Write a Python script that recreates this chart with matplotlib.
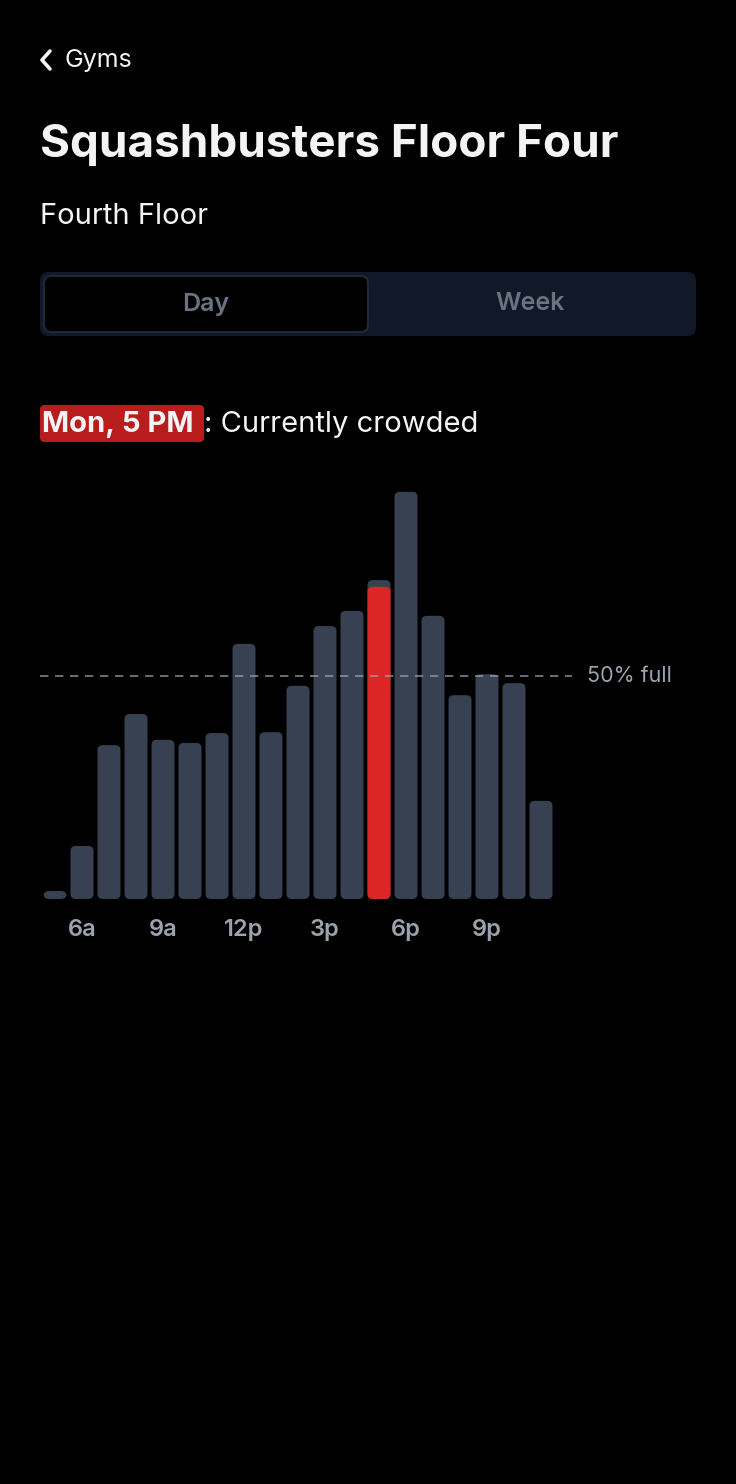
import matplotlib
matplotlib.use("Agg")
import matplotlib.pyplot as plt
from matplotlib.patches import FancyBboxPatch
from matplotlib.lines import Line2D

hours = ["5a","6a","7a","8a","9a","10a","11a","12p","1p","2p","3p","4p","5p","6p","7p","8p","9p","10p","11p"]
values = [1.8, 11.9, 34.5, 41.5, 35.7, 35.0, 37.2, 57.2, 37.4, 47.8, 61.2, 64.6, 71.5, 91.3, 63.5, 45.7, 50.4, 48.4, 22.0]
current_index = 12
current_value = 70.0
tick_labels = ["6a","9a","12p","3p","6p","9p"]
tick_idx = [1, 4, 7, 10, 13, 16]

W, H = 736, 1484
fig = plt.figure(figsize=(W/100, H/100), dpi=100, facecolor="black")
plt.rcParams['font.family'] = ['Inter', 'DejaVu Sans']

def fx(x): return x / W
def fy(y): return 1 - y / H

# back chevron
fig.add_artist(Line2D([fx(50), fx(42), fx(50)], [fy(51), fy(60), fy(69)], color="#f3f4f6", lw=2.6,
                      solid_capstyle="round", solid_joinstyle="round"))
fig.text(fx(64), fy(60), "Gyms", color="#f3f4f6", fontsize=18, va="center", ha="left")
fig.text(fx(40), fy(145), "Squashbusters Floor Four", color="#f3f4f6", fontsize=33, fontweight="bold", va="center")
fig.text(fx(40), fy(216), "Fourth Floor", color="#f3f4f6", fontsize=21, va="center")

# toggle
fig.add_artist(FancyBboxPatch((fx(40), fy(336)), fx(656), 64/H, boxstyle="round,pad=0,rounding_size=0.012",
                              mutation_aspect=W/H, transform=fig.transFigure, facecolor="#111827", edgecolor="none"))
fig.add_artist(FancyBboxPatch((fx(44), fy(332)), fx(324), 56/H, boxstyle="round,pad=0,rounding_size=0.01",
                              mutation_aspect=W/H, transform=fig.transFigure, facecolor="black", edgecolor="#1f2937", lw=1.5))
fig.text(fx(206), fy(304), "Day", color="#6b7280", fontsize=18, fontweight="semibold", ha="center", va="center")
fig.text(fx(530), fy(304), "Week", color="#6b7280", fontsize=18, fontweight="semibold", ha="center", va="center")

# status
fig.add_artist(FancyBboxPatch((fx(40), fy(442)), fx(164), 37/H, boxstyle="round,pad=0,rounding_size=0.006",
                              mutation_aspect=W/H, transform=fig.transFigure, facecolor="#b91c1c", edgecolor="none"))
fig.text(fx(42), fy(424), "Mon, 5 PM", color="#f3f4f6", fontsize=21, fontweight="bold", va="center")
fig.text(fx(204), fy(424), ": Currently crowded", color="#f3f4f6", fontsize=21, va="center")

# chart axes
left_px, right_px, top_px, bot_px = 40, 570, 453, 899
ax = fig.add_axes([fx(left_px), fy(bot_px), (right_px-left_px)/W, (bot_px-top_px)/H])
ax.set_facecolor("black")
ax.set_xlim(-15/27, (right_px-55)/27)
ax.set_ylim(0, 100)
ax.axis("off")

bw = 23/27
def rbar(x, h, color, z=2):
    p = FancyBboxPatch((x-bw/2, 0), bw, h, boxstyle="round,pad=0,rounding_size=0.2",
                       mutation_aspect=5.6, facecolor=color, edgecolor="none", zorder=z)
    ax.add_patch(p)

for i, v in enumerate(values):
    rbar(i, v, "#374151")
rbar(current_index, current_value, "#dc2626", z=3)

fig.add_artist(Line2D([fx(40), fx(572)], [fy(676), fy(676)], color="#9ca3af", lw=1.2, ls=(0, (5, 4)), alpha=0.8))
fig.text(fx(587), fy(676), "50% full", color="#9ca3af", fontsize=15.5, va="center")

for i, lab in zip(tick_idx, tick_labels):
    ax.text(i, 0, lab, transform=ax.transData, color="#9ca3af", fontsize=17, fontweight="semibold",
            ha="center", va="center")
    ax.texts[-1].set_position((i, -7))

fig.savefig("out.png", dpi=100, facecolor="black")
